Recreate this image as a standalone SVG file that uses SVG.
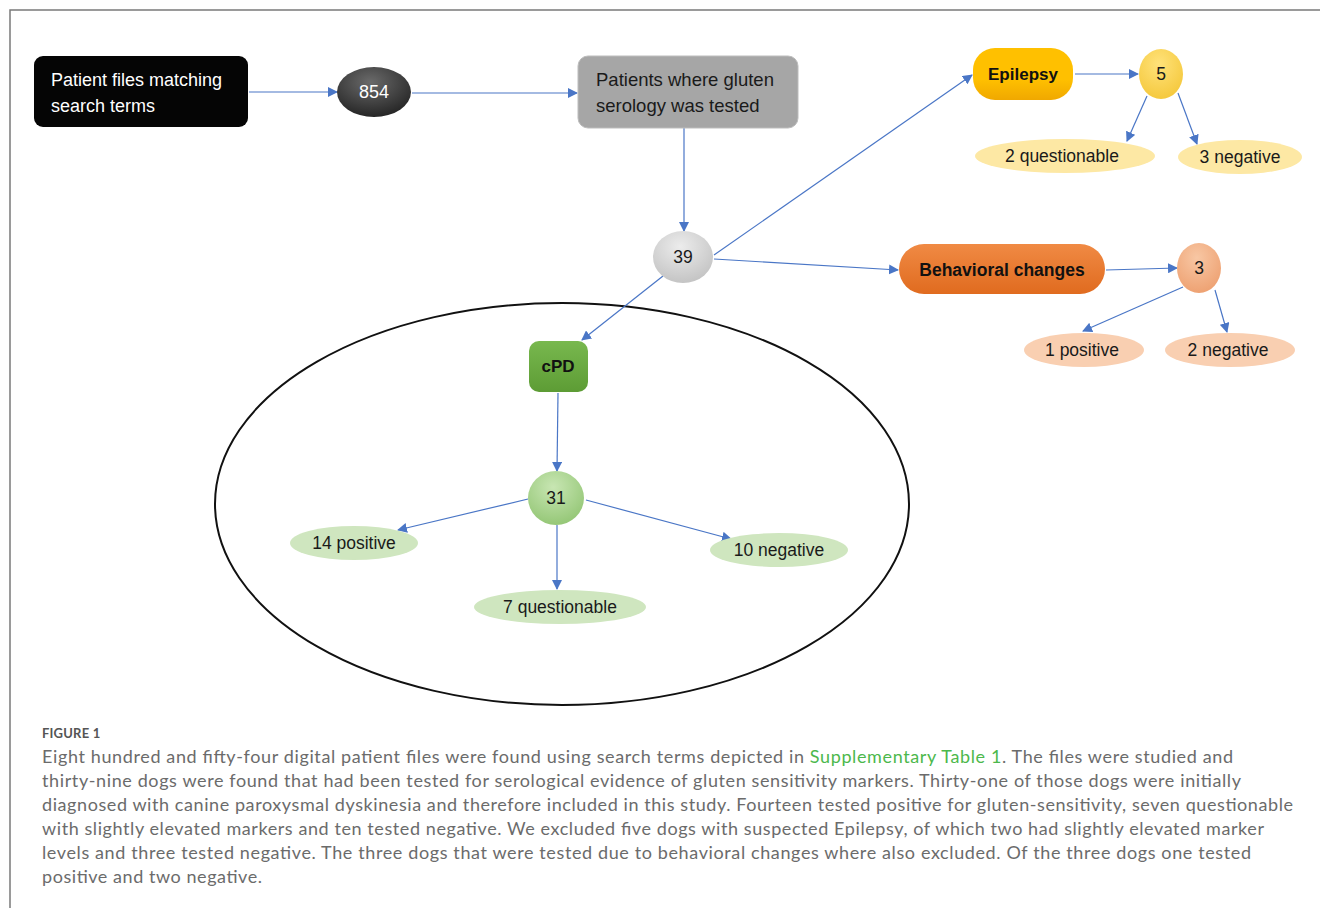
<svg xmlns="http://www.w3.org/2000/svg" width="1320" height="908" viewBox="0 0 1320 908">
<defs>
<style>
.lbl{font-family:"Liberation Sans",Arial,sans-serif;font-size:17.5px;fill:#1a1a1a}
.lblw{font-family:"Liberation Sans",Arial,sans-serif;font-size:18px;fill:#ffffff}
.bold{font-family:"Liberation Sans",Arial,sans-serif;font-size:17px;font-weight:bold;fill:#111}
.conn{stroke:#4a76c6;stroke-width:1.2;fill:none;marker-end:url(#arr)}
.cap{font-family:"Lato","Open Sans",sans-serif;font-size:18px;fill:#6b6b6b}
.capt{font-family:"Lato","Open Sans",sans-serif;font-size:13px;fill:#555;font-weight:bold;letter-spacing:0.2px}
</style>
<marker id="arr" viewBox="0 0 10 10" refX="9" refY="5" markerWidth="10" markerHeight="10" markerUnits="userSpaceOnUse" orient="auto">
<path d="M0,0 L10,5 L0,10 z" fill="#4a76c6"/>
</marker>
<radialGradient id="gDark" cx="0.45" cy="0.3" r="0.7"><stop offset="0" stop-color="#6a6a6a"/><stop offset="1" stop-color="#262626"/></radialGradient>
<radialGradient id="gGray" cx="0.45" cy="0.3" r="0.7"><stop offset="0" stop-color="#ececec"/><stop offset="1" stop-color="#c4c4c4"/></radialGradient>
<linearGradient id="gEpi" x1="0" y1="0" x2="0" y2="1"><stop offset="0" stop-color="#ffc000"/><stop offset="0.6" stop-color="#ffc000"/><stop offset="1" stop-color="#f0a800"/></linearGradient>
<radialGradient id="g5" cx="0.45" cy="0.3" r="0.7"><stop offset="0" stop-color="#ffe27a"/><stop offset="1" stop-color="#f5c93e"/></radialGradient>
<linearGradient id="gBeh" x1="0" y1="0" x2="0" y2="1"><stop offset="0" stop-color="#f08a44"/><stop offset="1" stop-color="#e06b1f"/></linearGradient>
<radialGradient id="g3" cx="0.45" cy="0.3" r="0.7"><stop offset="0" stop-color="#f8c7a4"/><stop offset="1" stop-color="#eea273"/></radialGradient>
<linearGradient id="gCpd" x1="0" y1="0" x2="0" y2="1"><stop offset="0" stop-color="#78b84e"/><stop offset="1" stop-color="#5d9c35"/></linearGradient>
<radialGradient id="g31" cx="0.45" cy="0.3" r="0.7"><stop offset="0" stop-color="#c8e6b3"/><stop offset="1" stop-color="#95c777"/></radialGradient>
</defs>
<rect width="1320" height="908" fill="#ffffff"/>
<path d="M10,908 L10,10 L1320,10" fill="none" stroke="#7a7a7a" stroke-width="1.5"/>

<ellipse cx="562" cy="504" rx="347" ry="201" fill="none" stroke="#111" stroke-width="2"/>

<g id="connectors">
<line class="conn" x1="249" y1="92" x2="337" y2="92"/>
<line class="conn" x1="412" y1="93" x2="577" y2="93"/>
<line class="conn" x1="684" y1="128" x2="684" y2="231"/>
<line class="conn" x1="714" y1="255" x2="972" y2="75"/>
<line class="conn" x1="714" y1="259" x2="898" y2="270"/>
<line class="conn" x1="663" y1="276" x2="582" y2="340"/>
<line class="conn" x1="1075" y1="74" x2="1138" y2="74"/>
<line class="conn" x1="1147" y1="96" x2="1127" y2="141"/>
<line class="conn" x1="1178" y1="93" x2="1197" y2="144"/>
<line class="conn" x1="1106" y1="270" x2="1177" y2="268"/>
<line class="conn" x1="1183" y1="287" x2="1083" y2="331"/>
<line class="conn" x1="1215" y1="290" x2="1227" y2="332"/>
<line class="conn" x1="558" y1="393" x2="557" y2="471"/>
<line class="conn" x1="528" y1="499" x2="398" y2="530"/>
<line class="conn" x1="557" y1="525" x2="557" y2="589"/>
<line class="conn" x1="586" y1="500" x2="731" y2="539"/>
</g>

<g id="node-patient-files">
<rect x="34" y="56" width="214" height="71" rx="9" fill="#050505"/>
<text class="lblw" x="51" y="86">Patient files matching</text>
<text class="lblw" x="51" y="112">search terms</text>
</g>
<g id="node-854">
<ellipse cx="374" cy="92" rx="37" ry="25" fill="url(#gDark)"/>
<text class="lblw" x="374" y="98" text-anchor="middle">854</text>
</g>
<g id="node-gluten">
<rect x="578" y="56" width="220" height="72" rx="10" fill="#a6a6a6" stroke="#bdbdbd" stroke-width="1"/>
<text class="lbl" x="596" y="86" style="font-size:18.5px">Patients where gluten</text>
<text class="lbl" x="596" y="112" style="font-size:18.5px">serology was tested</text>
</g>
<g id="node-39">
<ellipse cx="683" cy="257" rx="30" ry="26" fill="url(#gGray)"/>
<text class="lbl" x="683" y="263" text-anchor="middle">39</text>
</g>
<g id="node-epilepsy">
<rect x="973" y="48" width="100" height="52" rx="22" fill="url(#gEpi)"/>
<text class="bold" x="1023" y="80" text-anchor="middle">Epilepsy</text>
</g>
<g id="node-5">
<ellipse cx="1161" cy="74" rx="22" ry="25" fill="url(#g5)"/>
<text class="lbl" x="1161" y="80" text-anchor="middle">5</text>
</g>
<g id="node-epi-questionable">
<ellipse cx="1065" cy="156" rx="90" ry="17" fill="#fde8a4"/>
<text class="lbl" x="1062" y="162" text-anchor="middle">2 questionable</text>
</g>
<g id="node-epi-negative">
<ellipse cx="1240" cy="157" rx="62" ry="17" fill="#fde8a4"/>
<text class="lbl" x="1240" y="163" text-anchor="middle">3 negative</text>
</g>
<g id="node-behavioral">
<rect x="899" y="244" width="206" height="50" rx="25" fill="url(#gBeh)"/>
<text class="bold" x="1002" y="276" text-anchor="middle" style="font-size:17.5px">Behavioral changes</text>
</g>
<g id="node-3">
<ellipse cx="1199" cy="268" rx="22" ry="25" fill="url(#g3)"/>
<text class="lbl" x="1199" y="274" text-anchor="middle">3</text>
</g>
<g id="node-beh-positive">
<ellipse cx="1084" cy="350" rx="60" ry="17" fill="#f9cfb1"/>
<text class="lbl" x="1082" y="356" text-anchor="middle">1 positive</text>
</g>
<g id="node-beh-negative">
<ellipse cx="1230" cy="350" rx="65" ry="17" fill="#f9cfb1"/>
<text class="lbl" x="1228" y="356" text-anchor="middle">2 negative</text>
</g>
<g id="node-cpd">
<rect x="529" y="341" width="59" height="51" rx="10" fill="url(#gCpd)"/>
<text class="bold" x="558" y="372" text-anchor="middle">cPD</text>
</g>
<g id="node-31">
<ellipse cx="556" cy="498" rx="28" ry="27" fill="url(#g31)"/>
<text class="lbl" x="556" y="504" text-anchor="middle">31</text>
</g>
<g id="node-positive">
<ellipse cx="354" cy="543" rx="64" ry="17" fill="#cfe6bf"/>
<text class="lbl" x="354" y="549" text-anchor="middle">14 positive</text>
</g>
<g id="node-questionable">
<ellipse cx="560" cy="607" rx="86" ry="17" fill="#cfe6bf"/>
<text class="lbl" x="560" y="613" text-anchor="middle">7 questionable</text>
</g>
<g id="node-negative">
<ellipse cx="779" cy="550" rx="69" ry="17" fill="#cfe6bf"/>
<text class="lbl" x="779" y="556" text-anchor="middle">10 negative</text>
</g>

<g id="caption">
<text class="capt" x="42" y="738">FIGURE 1</text>
<text class="cap" x="42" y="763" textLength="1191" lengthAdjust="spacing">Eight hundred and fifty-four digital patient files were found using search terms depicted in <tspan fill="#4cb84c">Supplementary Table 1</tspan>. The files were studied and</text>
<text class="cap" x="42" y="787" textLength="1199" lengthAdjust="spacing">thirty-nine dogs were found that had been tested for serological evidence of gluten sensitivity markers. Thirty-one of those dogs were initially</text>
<text class="cap" x="42" y="811" textLength="1251" lengthAdjust="spacing">diagnosed with canine paroxysmal dyskinesia and therefore included in this study. Fourteen tested positive for gluten-sensitivity, seven questionable</text>
<text class="cap" x="42" y="835" textLength="1222" lengthAdjust="spacing">with slightly elevated markers and ten tested negative. We excluded five dogs with suspected Epilepsy, of which two had slightly elevated marker</text>
<text class="cap" x="42" y="859" textLength="1209" lengthAdjust="spacing">levels and three tested negative. The three dogs that were tested due to behavioral changes where also excluded. Of the three dogs one tested</text>
<text class="cap" x="42" y="883" textLength="220" lengthAdjust="spacing">positive and two negative.</text>
</g>
</svg>
